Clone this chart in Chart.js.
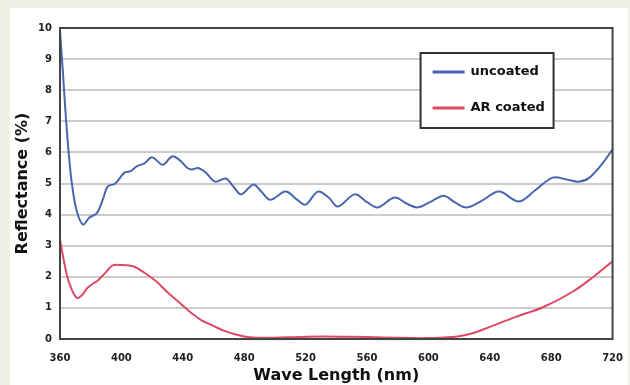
<!DOCTYPE html>
<html>
<head>
<meta charset="utf-8">
<script src="https://cdn.jsdelivr.net/npm/chart.js@4/dist/chart.umd.min.js"></script>
<style>
  html, body { margin: 0; padding: 0; background: #edf2e4; width: 630px; height: 385px; overflow: hidden; }
  #panel { position: absolute; left: 10px; top: 8px; width: 618px; height: 377px; background: #ffffff; }
</style>
</head>
<body>
<div id="panel"><canvas id="grafico"></canvas></div>
<script>
// valores (comprimento de onda em nm, refletância em %)
const uncoatedNm = [360, 362, 364, 366, 368, 371, 375, 379, 384, 388, 391, 396, 402, 406, 410, 415, 420, 427, 433, 438,
  443, 446, 450, 455, 461, 468, 473, 478, 486, 491, 497, 507, 514, 520, 528, 535, 541, 552, 560, 567,
  578, 586, 593, 601, 610, 617, 625, 635, 646, 659, 670, 681, 690, 698, 705, 714, 720];
const uncoatedVals = [9.9, 8.5, 7.0, 5.8, 4.9, 4.1, 3.68, 3.9, 4.05, 4.5, 4.9, 5.0, 5.35, 5.4, 5.55, 5.65, 5.84, 5.6, 5.87, 5.75,
  5.5, 5.45, 5.5, 5.35, 5.06, 5.16, 4.9, 4.65, 4.97, 4.75, 4.48, 4.74, 4.5, 4.32, 4.74, 4.55, 4.26, 4.65, 4.4, 4.23,
  4.55, 4.35, 4.23, 4.4, 4.61, 4.4, 4.23, 4.45, 4.74, 4.42, 4.8, 5.19, 5.13, 5.06, 5.19, 5.68, 6.1];

const coatedNm = [360, 363, 366, 371, 375, 378, 385, 390, 394, 400, 408, 415, 423, 430, 439, 446, 452, 460, 467, 475,
  481, 490, 510, 530, 550, 570, 590, 600, 610, 619, 630, 640, 657, 675, 694, 709, 720];
const coatedVals = [3.2, 2.4, 1.8, 1.32, 1.45, 1.65, 1.9, 2.15, 2.36, 2.38, 2.33, 2.13, 1.84, 1.5, 1.12, 0.82, 0.61, 0.42, 0.26, 0.14,
  0.07, 0.04, 0.06, 0.08, 0.07, 0.05, 0.03, 0.03, 0.05, 0.08, 0.2, 0.39, 0.71, 1.03, 1.52, 2.06, 2.5];

const xTicks = [360, 400, 440, 480, 520, 560, 600, 640, 680, 720];
const yTicks = [0, 1, 2, 3, 4, 5, 6, 7, 8, 9, 10];

const nomes = ["uncoated", "AR coated"];
const cores = ["#4866ae", "#dd4a62"];

function pares(xs, ys) {
  return xs.map((x, i) => ({ x: x, y: ys[i] }));
}

// moldura superior/direita da área do gráfico
const moldura = {
  id: "moldura",
  afterDraw(chart) {
    const { ctx, chartArea: a } = chart;
    ctx.save();
    ctx.strokeStyle = "#444";
    ctx.lineWidth = 2;
    ctx.strokeRect(a.left, a.top, a.right - a.left, a.bottom - a.top);
    ctx.restore();
  }
};

// legenda desenhada dentro da área do gráfico
const legenda = {
  id: "legenda",
  afterDraw(chart) {
    const { ctx, chartArea: a } = chart;
    const bx = a.right - 192, by = a.top + 25, bw = 133, bh = 75;
    ctx.save();
    ctx.fillStyle = "#fff";
    ctx.fillRect(bx, by, bw, bh);
    ctx.strokeStyle = "#333";
    ctx.lineWidth = 2;
    ctx.strokeRect(bx, by, bw, bh);
    ctx.font = "bold 13px 'DejaVu Sans'";
    ctx.textBaseline = "middle";
    chart.data.datasets.forEach((ds, i) => {
      const ly = by + 19 + i * 36;
      ctx.strokeStyle = ds.borderColor;
      ctx.lineWidth = 3;
      ctx.beginPath();
      ctx.moveTo(bx + 12, ly);
      ctx.lineTo(bx + 44, ly);
      ctx.stroke();
      ctx.fillStyle = "#111";
      ctx.fillText(ds.label, bx + 50, ly);
    });
    ctx.restore();
  }
};

const ctx = document.getElementById("grafico").getContext("2d");
new Chart(ctx, {
  type: "line",
  data: {
    datasets: [
      { label: nomes[0], data: pares(uncoatedNm, uncoatedVals), borderColor: cores[0], borderWidth: 2, pointRadius: 0, tension: 0.35, fill: false },
      { label: nomes[1], data: pares(coatedNm, coatedVals), borderColor: cores[1], borderWidth: 2, pointRadius: 0, tension: 0.35, fill: false }
    ]
  },
  options: {
    responsive: true,
    maintainAspectRatio: false,
    animation: false,
    layout: { padding: { left: 0, right: 11, top: 20, bottom: 0 } },
    plugins: { legend: { display: false }, tooltip: { enabled: false } },
    scales: {
      x: {
        type: "linear",
        min: 360,
        max: 720,
        afterBuildTicks: s => { s.ticks = xTicks.map(v => ({ value: v })); },
        afterFit: s => { s.height = 46; },
        grid: { display: false },
        border: { display: true, color: "#555", width: 2 },
        ticks: { padding: 5, color: "#222", font: { family: "DejaVu Sans", size: 10, weight: "bold" }, maxRotation: 0 },
        title: { display: true, text: "Wave Length (nm)", color: "#111", padding: { top: 0, bottom: 0 }, font: { family: "DejaVu Sans", size: 16, weight: "bold" } }
      },
      y: {
        min: 0,
        max: 10,
        afterBuildTicks: s => { s.ticks = yTicks.map(v => ({ value: v })); },
        afterFit: s => { s.width = 50; },
        grid: { color: "#cccccc", lineWidth: 2, drawTicks: false },
        border: { display: true, color: "#555", width: 2 },
        ticks: { padding: 8, color: "#222", font: { family: "DejaVu Sans", size: 10, weight: "bold" } },
        title: { display: true, text: "Reflectance (%)", color: "#111", padding: { top: 3, bottom: 0 }, font: { family: "DejaVu Sans", size: 16, weight: "bold" } }
      }
    }
  },
  plugins: [moldura, legenda]
});
</script>
</body>
</html>
